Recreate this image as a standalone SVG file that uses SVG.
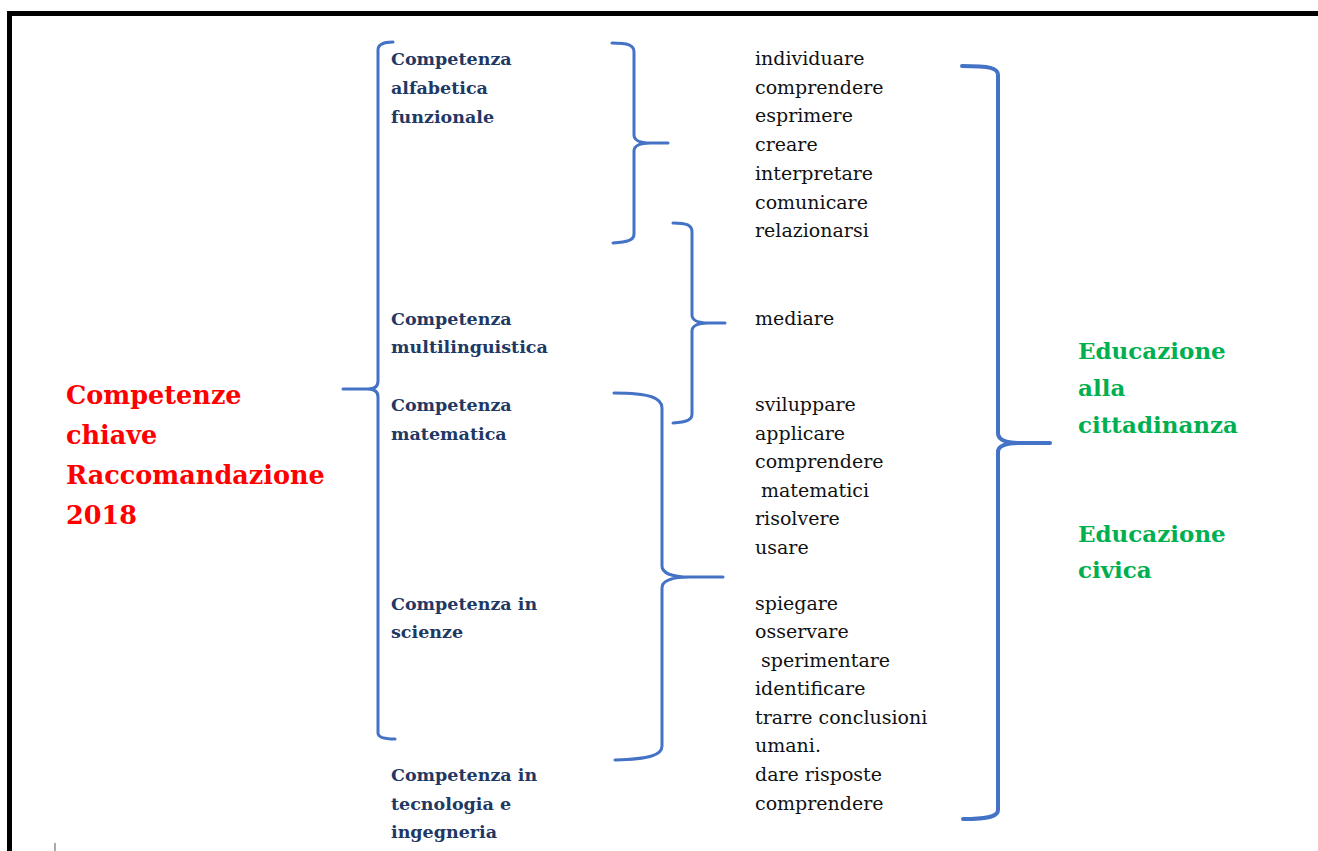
<svg xmlns="http://www.w3.org/2000/svg" width="1318" height="851" viewBox="0 0 1318 851">
<style>
text{font-family:"DejaVu Serif","Liberation Serif",serif}
.nav{font-weight:bold;font-size:17.5px;fill:#1F3864}
.verb{font-size:19px;fill:#111111}
.red{font-weight:bold;font-size:25.5px;fill:#FF0000}
.green{font-weight:bold;font-size:23px;fill:#00B050}
.brace{fill:none;stroke:#4472C4;stroke-width:3;stroke-linecap:round;stroke-linejoin:round}
.big{stroke-width:4}
</style>
<rect width="1318" height="851" fill="#ffffff"/>
<path d="M9.5,851 V13.5 H1318" fill="none" stroke="#000" stroke-width="5"/>
<line x1="55" y1="843" x2="55" y2="851" stroke="#555" stroke-width="1"/>

<g id="connectors">
  <path class="brace" d="M393,42 C383,42 378,44 378,50 L378,381 C378,386 375,389 368,389 L343,389 M368,389 C375,389 378,392 378,397 L378,733 C378,737 383,739 395,739"/>
  <path class="brace" d="M612,43 C628,43 634,45 634,52 L634,135 C634,140 640,143 650,143 L668,143 M650,143 C640,143 634,146 634,151 L634,234 C634,240 628,242 613,243"/>
  <path class="brace" d="M673,223 C687,223 692,225 692,232 L692,315 C692,320 698,323 708,323 L725,323 M708,323 C698,323 692,326 692,331 L692,414 C692,420 687,422 673,423"/>
  <path class="brace" d="M614,393 C650,393 662,398 662,408 L662,566 C662,572 670,577 690,577 L723,577 M690,577 C670,577 662,581 662,588 L662,746 C662,755 650,759 615,760"/>
  <path class="brace big" d="M962,66 C990,66 998,68 998,75 L998,433 C998,439 1005,443 1020,443 L1050,443 M1020,443 C1005,443 998,446 998,452 L998,810 C998,816 990,819 963,819"/>
</g>

<g id="competenze-chiave">
  <text class="red"><tspan x="66" y="404">Competenze</tspan><tspan x="66" y="444">chiave</tspan><tspan x="66" y="484">Raccomandazione</tspan><tspan x="66" y="524">2018</tspan></text>
</g>

<g id="comp-alfabetica">
  <text class="nav"><tspan x="391" y="65">Competenza</tspan><tspan x="391" y="94">alfabetica</tspan><tspan x="391" y="122.5">funzionale</tspan></text>
</g>
<g id="comp-multilinguistica">
  <text class="nav"><tspan x="391" y="324.5">Competenza</tspan><tspan x="391" y="353">multilinguistica</tspan></text>
</g>
<g id="comp-matematica">
  <text class="nav"><tspan x="391" y="411">Competenza</tspan><tspan x="391" y="439.5">matematica</tspan></text>
</g>
<g id="comp-scienze">
  <text class="nav"><tspan x="391" y="609.5">Competenza in</tspan><tspan x="391" y="638">scienze</tspan></text>
</g>
<g id="comp-tecnologia">
  <text class="nav"><tspan x="391" y="781">Competenza in</tspan><tspan x="391" y="809.5">tecnologia e</tspan><tspan x="391" y="838">ingegneria</tspan></text>
</g>

<g id="verbi-alfabetica">
  <text class="verb"><tspan x="755" y="65">individuare</tspan><tspan x="755" y="93.7">comprendere</tspan><tspan x="755" y="122.4">esprimere</tspan><tspan x="755" y="151">creare</tspan><tspan x="755" y="179.8">interpretare</tspan><tspan x="755" y="208.5">comunicare</tspan><tspan x="755" y="237">relazionarsi</tspan></text>
</g>
<g id="verbi-multilinguistica">
  <text class="verb" x="755" y="324.5">mediare</text>
</g>
<g id="verbi-matematica">
  <text class="verb"><tspan x="755" y="411">sviluppare</tspan><tspan x="755" y="439.5">applicare</tspan><tspan x="755" y="468">comprendere</tspan><tspan x="761" y="496.5">matematici</tspan><tspan x="755" y="525">risolvere</tspan><tspan x="755" y="553.5">usare</tspan></text>
</g>
<g id="verbi-scienze">
  <text class="verb"><tspan x="755" y="609.5">spiegare</tspan><tspan x="755" y="638">osservare</tspan><tspan x="761" y="666.5">sperimentare</tspan><tspan x="755" y="695">identificare</tspan><tspan x="755" y="723.5">trarre conclusioni</tspan><tspan x="755" y="752">umani.</tspan><tspan x="755" y="781">dare risposte</tspan><tspan x="755" y="809.5">comprendere</tspan></text>
</g>

<g id="educazione">
  <text class="green"><tspan x="1078" y="359">Educazione</tspan><tspan x="1078" y="396">alla</tspan><tspan x="1078" y="433">cittadinanza</tspan></text>
  <text class="green"><tspan x="1078" y="542">Educazione</tspan><tspan x="1078" y="578">civica</tspan></text>
</g>
</svg>
